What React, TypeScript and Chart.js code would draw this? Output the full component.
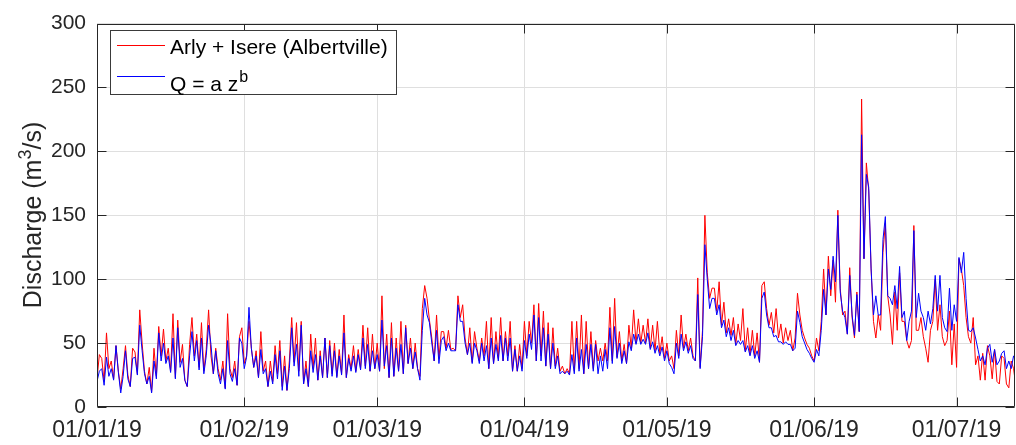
import React, { useEffect, useRef } from "react";
import { Chart, registerables } from "chart.js";

Chart.register(...registerables);

// ---- data ----
const TICK_DAYS = [0, 31, 59, 90, 120, 151, 181];
const TICK_LABELS = ["01/01/19", "01/02/19", "01/03/19", "01/04/19", "01/05/19", "01/06/19", "01/07/19"];
const Y_MIN = 0;
const Y_MAX = 300;
const Y_STEP = 50;
const X_MAX_DAYS = 193.3;
const STEP_DAYS = 0.5; // two readings per day
const SERIES_LABELS = ["Arly + Isere (Albertville)", "Q = a z^b"];

// Arly + Isere (Albertville), m3/s, one value every half day from 01/01/19
const arlyIsere = [
  22, 41, 38, 20, 58, 30, 36, 22, 48, 28, 14, 30, 48, 25, 16, 46, 43, 26, 76, 50,
  28, 18, 31, 12, 46, 24, 63, 40, 61, 36, 46, 28, 73, 23, 68, 35, 49, 21, 16, 49,
  70, 40, 57, 31, 66, 28, 45, 76, 40, 26, 46, 30, 21, 36, 15, 73, 30, 23, 36, 17,
  55, 62, 34, 40, 67, 46, 31, 44, 23, 59, 28, 36, 16, 36, 20, 48, 26, 52, 16, 40,
  13, 36, 70, 35, 66, 28, 67, 18, 36, 16, 57, 30, 54, 21, 44, 23, 54, 23, 52, 26,
  50, 24, 45, 26, 72, 23, 41, 30, 48, 28, 45, 30, 64, 32, 62, 28, 57, 30, 50, 28,
  87, 30, 57, 23, 66, 24, 54, 28, 67, 26, 64, 34, 54, 30, 50, 30, 24, 77, 95, 85,
  68, 54, 36, 72, 38, 59, 59, 46, 60, 45, 46, 44, 87, 70, 80, 54, 41, 62, 35, 59,
  46, 36, 54, 40, 67, 30, 70, 34, 59, 38, 70, 36, 59, 40, 67, 28, 48, 28, 49, 30,
  67, 40, 67, 50, 80, 36, 81, 40, 75, 32, 66, 30, 62, 32, 46, 28, 32, 26, 30, 26,
  67, 28, 67, 30, 72, 26, 67, 30, 59, 30, 52, 36, 46, 36, 50, 36, 78, 36, 85, 39,
  59, 36, 49, 34, 64, 46, 76, 50, 69, 50, 64, 50, 69, 46, 64, 44, 67, 42, 55, 38,
  50, 36, 40, 30, 60, 40, 72, 46, 57, 44, 54, 40, 36, 101, 31, 60, 150, 105, 85, 93,
  93, 75, 98, 64, 82, 58, 69, 56, 70, 49, 65, 52, 77, 44, 62, 41, 60, 40, 58, 35,
  95, 98, 77, 64, 74, 58, 77, 54, 65, 50, 62, 52, 60, 44, 54, 89, 72, 60, 54, 49,
  46, 40, 36, 54, 44, 67, 108, 72, 118, 87, 115, 82, 154, 93, 72, 75, 57, 109, 70, 54,
  90, 59, 241, 116, 191, 169, 108, 67, 54, 72, 60, 121, 144, 87, 72, 49, 90, 60, 105, 67,
  67, 52, 46, 52, 142, 60, 60, 70, 55, 46, 35, 60, 67, 100, 60, 80, 55, 48, 52, 75,
  33, 65, 31, 116, 108, 95, 70, 55, 50, 70, 33, 40, 21, 42, 21, 48, 40, 22, 45, 20,
  18, 40, 38, 18, 15, 36, 30, 16,
];

// Q = a z^b, m3/s, same time steps
const powerLaw = [
  20, 28, 30, 17, 39, 24, 30, 21, 48, 27, 11, 24, 44, 22, 16, 38, 39, 25, 64, 44,
  26, 18, 24, 11, 36, 22, 58, 36, 50, 34, 40, 27, 54, 22, 62, 31, 38, 21, 16, 40,
  59, 36, 52, 29, 54, 26, 40, 64, 49, 26, 44, 26, 18, 30, 14, 52, 26, 20, 30, 17,
  54, 50, 30, 39, 78, 46, 31, 40, 23, 45, 26, 30, 16, 28, 18, 41, 22, 44, 13, 32,
  13, 30, 62, 32, 49, 24, 64, 18, 30, 16, 44, 27, 41, 21, 40, 23, 54, 23, 48, 24,
  44, 23, 40, 25, 58, 23, 38, 28, 40, 27, 41, 29, 54, 30, 49, 28, 44, 30, 41, 28,
  68, 32, 48, 23, 54, 24, 46, 28, 49, 26, 62, 34, 46, 30, 43, 30, 21, 60, 85, 72,
  66, 50, 36, 60, 34, 52, 55, 44, 50, 44, 44, 44, 80, 67, 67, 50, 41, 50, 34, 50,
  44, 34, 50, 36, 48, 30, 54, 34, 49, 36, 56, 36, 54, 36, 54, 28, 45, 28, 40, 28,
  52, 38, 57, 45, 72, 36, 70, 36, 62, 32, 57, 30, 50, 30, 40, 26, 28, 26, 28, 25,
  41, 26, 54, 28, 45, 26, 49, 30, 49, 28, 49, 26, 40, 28, 45, 30, 62, 34, 63, 38,
  50, 34, 44, 34, 51, 44, 57, 49, 57, 49, 53, 49, 58, 45, 51, 42, 48, 40, 47, 36,
  44, 34, 31, 26, 50, 38, 57, 44, 51, 42, 48, 38, 36, 88, 30, 55, 127, 100, 77, 85,
  85, 72, 80, 62, 68, 55, 62, 52, 60, 48, 52, 49, 52, 43, 48, 40, 48, 38, 44, 35,
  85, 90, 72, 62, 62, 55, 56, 51, 51, 49, 51, 49, 49, 44, 46, 75, 66, 55, 50, 45,
  42, 38, 35, 45, 40, 60, 92, 72, 108, 92, 118, 98, 150, 90, 75, 70, 57, 103, 72, 56,
  88, 59, 213, 116, 182, 172, 108, 72, 87, 72, 72, 131, 149, 87, 85, 80, 95, 77, 110, 70,
  75, 52, 67, 75, 138, 70, 89, 75, 70, 60, 75, 65, 77, 103, 75, 103, 70, 62, 59, 93,
  60, 80, 67, 117, 105, 121, 85, 60, 59, 62, 54, 45, 36, 40, 33, 46, 49, 35, 45, 33,
  36, 42, 44, 30, 36, 30, 40, 36,
];

// ---- styling ----
const FONT = '"Liberation Sans", Arial, Helvetica, sans-serif';
const AXIS_COLOR = "#262626";
const GRID_COLOR = "#dfdfdf";
const Y_TICK_FONT_SIZE = 21;
const X_TICK_FONT_SIZE = 23;
const LEGEND_FONT_SIZE = 21;
const LABEL_FONT_SIZE = 25;

const toPoints = (vals: number[]) => vals.map((v, i) => ({ x: i * STEP_DAYS, y: v }));

const matlabFrame = {
  id: "matlabFrame",
  afterDraw(chart: any) {
    const { ctx, chartArea: a, scales } = chart;
    const xs = scales.x;
    const ys = scales.y;
    const L = Math.round(a.left) + 0.5;
    const R = Math.round(a.right) - 0.5;
    const T = Math.round(a.top) + 0.5;
    const B = Math.round(a.bottom) - 0.5;
    ctx.save();
    ctx.strokeStyle = AXIS_COLOR;
    ctx.lineWidth = 1;
    ctx.beginPath();
    ctx.rect(L, T, R - L, B - T);
    ctx.stroke();
    // inward ticks
    const tl = 9;
    ctx.beginPath();
    TICK_DAYS.forEach((d) => {
      const px = Math.round(xs.getPixelForValue(d)) + 0.5;
      ctx.moveTo(px, B);
      ctx.lineTo(px, B - tl);
      ctx.moveTo(px, T);
      ctx.lineTo(px, T + tl);
    });
    for (let v = Y_MIN; v <= Y_MAX; v += Y_STEP) {
      const py = Math.round(ys.getPixelForValue(v)) + 0.5;
      ctx.moveTo(L, py);
      ctx.lineTo(L + tl, py);
      ctx.moveTo(R, py);
      ctx.lineTo(R - tl, py);
    }
    ctx.stroke();

    // legend
    const ds = chart.data.datasets;
    const bx = 110.5, by = 30.5, bw = 286, bh = 64;
    ctx.fillStyle = "#ffffff";
    ctx.fillRect(bx, by, bw, bh);
    ctx.strokeStyle = "#3a3a3a";
    ctx.strokeRect(bx, by, bw, bh);
    const rows = [45.5, 76.5];
    ds.forEach((d: any, i: number) => {
      ctx.strokeStyle = d.borderColor;
      ctx.lineWidth = 1;
      ctx.beginPath();
      ctx.moveTo(117, rows[i]);
      ctx.lineTo(165, rows[i]);
      ctx.stroke();
    });
    ctx.fillStyle = "#000000";
    ctx.textAlign = "left";
    ctx.textBaseline = "alphabetic";
    ctx.font = `${LEGEND_FONT_SIZE}px ${FONT}`;
    ctx.fillText(ds[0].label, 170, 54);
    const parts = String(ds[1].label).split("^");
    ctx.fillText(parts[0], 170, 91);
    const w0 = ctx.measureText(parts[0]).width;
    if (parts[1]) {
      ctx.font = `16px ${FONT}`;
      ctx.fillText(parts[1], 170 + w0 + 1, 82);
    }

    // y-axis title with superscript
    ctx.save();
    ctx.translate(41, 215);
    ctx.rotate(-Math.PI / 2);
    ctx.fillStyle = AXIS_COLOR;
    const p1 = "Discharge (m";
    const p2 = "3";
    const p3 = "/s)";
    const supSize = Math.round(LABEL_FONT_SIZE * 0.72);
    ctx.font = `${LABEL_FONT_SIZE}px ${FONT}`;
    const w1 = ctx.measureText(p1).width;
    const w3 = ctx.measureText(p3).width;
    ctx.font = `${supSize}px ${FONT}`;
    const w2 = ctx.measureText(p2).width;
    const total = w1 + w2 + w3;
    let x0 = -total / 2;
    ctx.font = `${LABEL_FONT_SIZE}px ${FONT}`;
    ctx.fillText(p1, x0, 0);
    x0 += w1;
    ctx.font = `${supSize}px ${FONT}`;
    ctx.fillText(p2, x0, -10);
    x0 += w2;
    ctx.font = `${LABEL_FONT_SIZE}px ${FONT}`;
    ctx.fillText(p3, x0, 0);
    ctx.restore();

    ctx.restore();
  },
};

export default function App() {
  const ref = useRef<HTMLCanvasElement | null>(null);

  useEffect(() => {
    if (!ref.current) return;
    const chart = new Chart(ref.current, {
      type: "line",
      data: {
        datasets: [
          {
            label: SERIES_LABELS[0],
            data: toPoints(arlyIsere),
            borderColor: "#ff0000",
            borderWidth: 1,
            pointRadius: 0,
            tension: 0,
            order: 2,
          },
          {
            label: SERIES_LABELS[1],
            data: toPoints(powerLaw),
            borderColor: "#0000ff",
            borderWidth: 1,
            pointRadius: 0,
            tension: 0,
            order: 1,
          },
        ],
      },
      options: {
        animation: false,
        responsive: false,
        devicePixelRatio: 1,
        layout: { padding: { top: 17, right: 1, bottom: 0, left: 0 } },
        plugins: {
          legend: { display: false },
          tooltip: { enabled: false },
        },
        scales: {
          x: {
            type: "linear",
            min: 0,
            max: X_MAX_DAYS,
            afterBuildTicks: (scale: any) => {
              scale.ticks = TICK_DAYS.map((v) => ({ value: v }));
            },
            afterFit: (scale: any) => {
              scale.height = 38;
            },
            grid: { color: GRID_COLOR, drawTicks: false, lineWidth: 1 },
            border: { display: false },
            ticks: {
              autoSkip: false,
              maxRotation: 0,
              minRotation: 0,
              padding: 10,
              color: AXIS_COLOR,
              font: { family: FONT, size: X_TICK_FONT_SIZE },
              callback: (_v: any, i: number) => TICK_LABELS[i],
            },
          },
          y: {
            min: Y_MIN,
            max: Y_MAX,
            afterFit: (scale: any) => {
              scale.width = 97;
            },
            grid: { color: GRID_COLOR, drawTicks: false, lineWidth: 1 },
            border: { display: false },
            ticks: {
              stepSize: Y_STEP,
              padding: 11,
              color: AXIS_COLOR,
              font: { family: FONT, size: Y_TICK_FONT_SIZE },
            },
          },
        },
      },
      plugins: [matlabFrame],
    });
    return () => chart.destroy();
  }, []);

  return (
    <div style={{ position: "absolute", left: 0, top: 0, width: 1016, height: 445, background: "#fff" }}>
      <canvas ref={ref} width={1016} height={445} style={{ display: "block", width: 1016, height: 445 }} />
    </div>
  );
}
